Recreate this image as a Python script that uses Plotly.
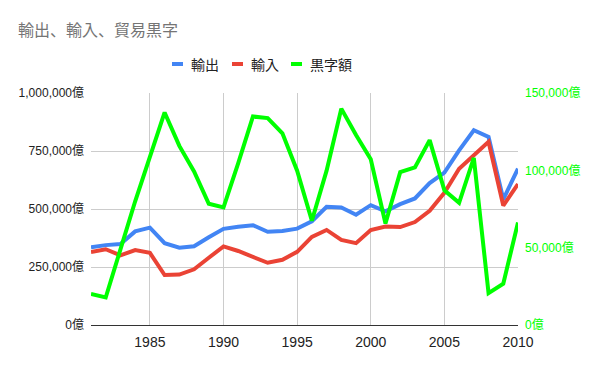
import plotly.graph_objects as go

years = list(range(1981, 2011))
exports = [334700, 344300, 349100, 403300, 419600, 352900, 333200, 339400, 378200, 414600,
           423600, 430100, 402000, 405000, 415300, 447300, 509400, 506500, 475500, 516500,
           489800, 521100, 545500, 611700, 656600, 752500, 839300, 810200, 541700, 674000]
imports = [314600, 326600, 300100, 323200, 310800, 215500, 217400, 240100, 289800, 338600,
           319000, 295300, 268300, 281000, 315500, 379900, 409600, 366500, 352700, 409400,
           424200, 422300, 443600, 492200, 569500, 673400, 731400, 789500, 515000, 607700]
surplus = [20000, 17800, 48900, 80000, 108700, 137400, 115800, 99300, 78400, 76000,
           104600, 134800, 133800, 123900, 99800, 67400, 99800, 139900, 122800, 107200,
           65600, 98800, 101900, 119500, 87100, 79000, 108000, 20600, 26700, 66300]
series_names = ["輸出", "輸入", "黒字額"]
series_colors = ["#4285F4", "#EA4335", "#00FF00"]
title_text = "輸出、輸入、貿易黒字"
x_ticks = [1985, 1990, 1995, 2000, 2005, 2010]
left_ticks = [0, 250000, 500000, 750000, 1000000]
right_ticks = [0, 50000, 100000, 150000]
left_labels = [f"{v:,}億" for v in left_ticks]
right_labels = [f"{v:,}億" for v in right_ticks]

FONT = "Arial, 'Liberation Sans', 'Noto Sans CJK JP', sans-serif"
CJK = "'Noto Sans CJK JP', 'Liberation Sans', sans-serif"

# page body has an 8px default margin; figure is sized to fill the rest of the window
OFF = 8
W, H = 600 - OFF, 371 - OFF
# plot area in window pixels: x 91..518, y 93..325
L, R, T, B = 91 - OFF, 600 - 518, 93 - OFF, 371 - 325
PW, PH = W - L - R, H - T - B


def px(x):
    # window pixel x -> paper coordinate
    return (x - OFF - L) / PW


def py(y):
    # window pixel y -> paper coordinate
    return (371 - B - y) / PH


fig = go.Figure()
fig.add_trace(go.Scatter(x=years, y=exports, name=series_names[0], mode="lines",
                         line=dict(color=series_colors[0], width=4)))
fig.add_trace(go.Scatter(x=years, y=imports, name=series_names[1], mode="lines",
                         line=dict(color=series_colors[1], width=4)))
fig.add_trace(go.Scatter(x=years, y=surplus, name=series_names[2], mode="lines", yaxis="y2",
                         line=dict(color=series_colors[2], width=4)))

# custom legend (small bars + labels)
legend_bar_x = [172, 232, 291]
legend_y = 64
for name, color, bx in zip(series_names, series_colors, legend_bar_x):
    fig.add_shape(type="line", xref="paper", yref="paper",
                  x0=px(bx), x1=px(bx + 11), y0=py(legend_y), y1=py(legend_y),
                  line=dict(color=color, width=4))
    fig.add_annotation(text=name, xref="paper", yref="paper", x=px(bx + 17), y=py(legend_y),
                       xanchor="left", yanchor="middle", showarrow=False,
                       font=dict(family=CJK, size=14, color="#222222"))

fig.update_layout(
    width=W, height=H,
    margin=dict(l=L, r=R, t=T, b=B, autoexpand=False),
    paper_bgcolor="white", plot_bgcolor="white",
    font=dict(family=FONT, color="#222222"),
    showlegend=False,
    title=dict(text=title_text, x=(18 - OFF) / W, xref="container", xanchor="left",
               y=1 - (30 - OFF) / H, yref="container", yanchor="middle",
               font=dict(family=CJK, size=16, color="#757575")),
    xaxis=dict(range=[1981, 2010], tickvals=x_ticks, showgrid=True, gridcolor="#cccccc",
               gridwidth=1, zeroline=False, showline=False, ticks="",
               tickfont=dict(size=14, color="#222222"), fixedrange=True, automargin=False,
               ticklabelstandoff=7),
    yaxis=dict(range=[0, 1000000], tickvals=left_ticks, ticktext=left_labels,
               showgrid=True, gridcolor="#cccccc", zeroline=True, zerolinecolor="#333333",
               zerolinewidth=1, tickfont=dict(size=12, color="#222222"), ticks="",
               ticklabelstandoff=6, automargin=False),
    yaxis2=dict(range=[0, 150000], tickvals=right_ticks, ticktext=right_labels,
                overlaying="y", side="right", showgrid=False, zeroline=False,
                tickfont=dict(size=12, color="#00FF00"), ticks="", ticklabelstandoff=6,
                automargin=False),
    hovermode=False,
)

fig.write_html("out.html")
